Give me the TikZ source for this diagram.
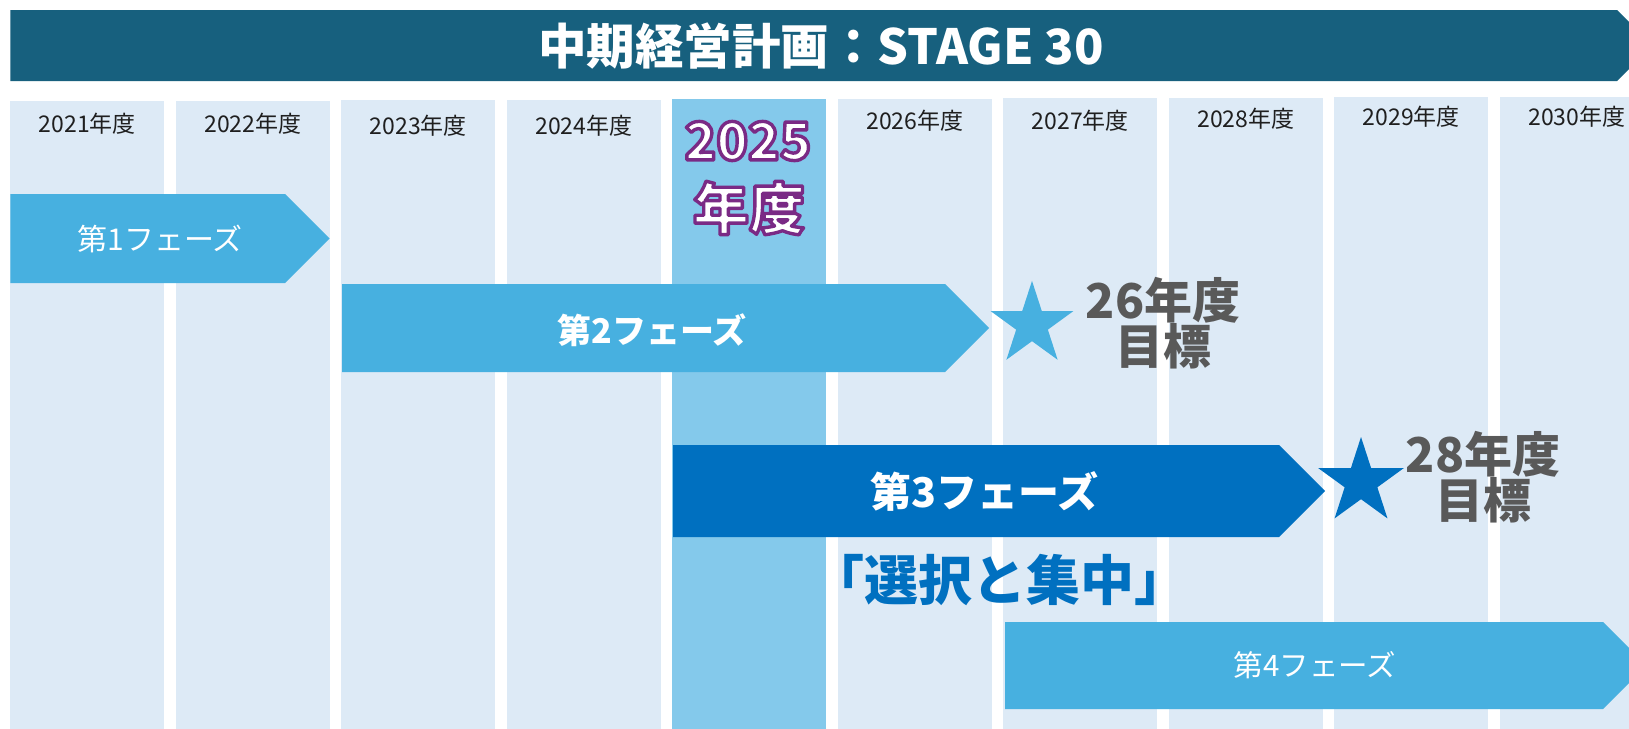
\documentclass[tikz,border=0pt]{standalone}
\usepackage{fontspec}
\setmainfont{Noto Sans CJK JP}
\usetikzlibrary{shapes.geometric}
\definecolor{banner}{HTML}{17607E}
\definecolor{colbg}{HTML}{DDEAF6}
\definecolor{colhi}{HTML}{84C9EB}
\definecolor{phlight}{HTML}{47B0E0}
\definecolor{phdark}{HTML}{0070C0}
\definecolor{goalgray}{HTML}{595959}
\newcommand\outlinedtext[1]{\special{pdf:literal direct 2 Tr 3.4 w 1 j 0.478 0.165 0.522 RG}#1\special{pdf:literal direct 0 Tr}}
\tikzset{
  yearlbl/.style={font=\fontsize{23}{24}\selectfont, text=black!88, inner sep=0},
  phtext/.style={text=white, inner sep=0},
  goal/.style={font=\bfseries\fontsize{48}{46}\selectfont, text=goalgray, align=center, inner sep=0},
  starshape/.style={star, star points=5, star point ratio=2.618, inner sep=0, draw=none},
}
\begin{document}
\begin{tikzpicture}[x=1pt,y=-1pt]
\useasboundingbox (0,0) rectangle (1629,728);
\fill[white] (0,0) rectangle (1629,728);
\clip (0,0) rectangle (1629,728);
% banner
\fill[banner] (10.4,10) -- (1617,10) -- (1652.5,45.5) -- (1617,81) -- (10.4,81) -- cycle;
\node[font=\bfseries\fontsize{48.5}{50}\selectfont, text=white, inner sep=0] (title) at (821,46) {中期経営計画：STAGE 30};
% columns
\foreach \i in {1,...,10}{
  \pgfmathsetmacro{\xl}{10.4+(\i-1)*165.5}
  \pgfmathsetmacro{\xr}{\xl+154}
  \pgfmathsetmacro{\yt}{101-(\i-1)*0.5}
  \ifnum\i=5
    \fill[colhi] (\xl,\yt) rectangle (\xr,740);
  \else
    \fill[colbg] (\xl,\yt) rectangle (\xr,740);
  \fi
}
% year labels
\foreach \i/\yy in {1/124,2/124,3/126,4/126,6/120.5,7/120.5,8/118.5,9/116.5,10/116.5}{
  \pgfmathsetmacro{\xc}{10.4+(\i-1)*165.5+77}
  \pgfmathtruncatemacro{\yr}{2020+\i}
  \node[yearlbl] (yl\i) at (\xc,\yy) {\yr 年度};
}
% 2025 label outlined
\node[font=\bfseries\fontsize{52}{54}\selectfont, text=white, inner sep=0] (y25a) at (748,141) {\outlinedtext{2025}};
\node[font=\bfseries\fontsize{56}{58}\selectfont, text=white, inner sep=0] (y25b) at (749,208) {\outlinedtext{年度}};
% phase 1
\fill[phlight] (10.4,194) -- (285,194) -- (329.5,238.5) -- (285,283) -- (10.4,283) -- cycle;
\node[phtext, font=\fontsize{30}{31}\selectfont] (p1) at (160,238.5) {第1フェーズ};
% phase 2
\fill[phlight] (342,284) -- (945,284) -- (989,328) -- (945,372) -- (342,372) -- cycle;
\node[phtext, font=\bfseries\fontsize{34}{36}\selectfont] (p2) at (652,330) {第2フェーズ};
% phase 3
\fill[phdark] (673,445) -- (1279,445) -- (1325,491) -- (1279,537) -- (673,537) -- cycle;
\node[phtext, font=\bfseries\fontsize{41}{42}\selectfont] (p3) at (984,491) {第3フェーズ};
% phase 4
\fill[phlight] (1005,622) -- (1603,622) -- (1646.5,665.5) -- (1603,709) -- (1005,709) -- cycle;
\node[phtext, font=\fontsize{29.5}{30}\selectfont] (p4) at (1315,665.5) {第4フェーズ};
% stars and goals
\node[starshape, fill=phlight, minimum size=87.2] (s1) at (1032,324.5) {};
\node[goal] (g1) at (1163,323) {26年度\\目標};
\node[starshape, fill=phdark, minimum size=90] (s2) at (1361,482) {};
\node[goal] (g2) at (1483,477.5) {28年度\\目標};
% slogan
\node[font=\bfseries\fontsize{54}{56}\selectfont, text=phdark, inner sep=0] (slogan) at (999,580) {「選択と集中」};
\end{tikzpicture}
\end{document}
